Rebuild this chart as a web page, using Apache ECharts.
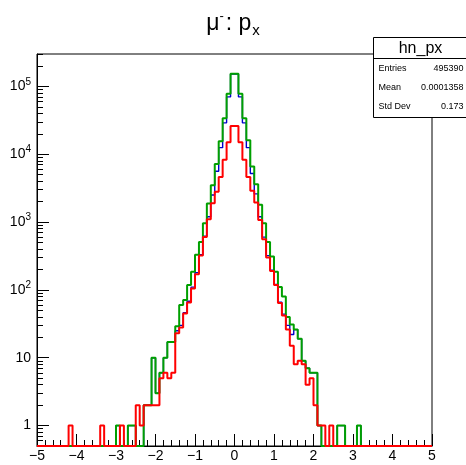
<!DOCTYPE html>
<html>
<head>
<meta charset="utf-8">
<script src="https://cdn.jsdelivr.net/npm/echarts@6/dist/echarts.min.js"></script>
<style>html,body{margin:0;padding:0;background:#fff}#c{width:466px;height:465px}</style>
</head>
<body>
<div id="c"></div>
<script>
// Histogram: 100 bins from -5 to 5 (width 0.1); counts per bin
var binLow = -5, binWidth = 0.1, nBins = 100;
function zeros(n){ var a=[]; for(var i=0;i<n;i++) a.push(0); return a; }

// green histogram counts (index 0 = bin [-5,-4.9])
var greenCounts = zeros(100);
var greenNonZero = {20:1,23:1,24:1,27:2,28:2,29:10,30:3,31:6,32:10,33:17,34:17,35:29,36:60,37:71,38:118,39:185,40:330,41:510,42:960,43:1880,44:3500,45:7200,46:15500,47:34000,48:78000,49:154000,
  50:154000,51:78000,52:34000,53:16000,54:6600,55:3600,56:1800,57:960,58:510,59:310,60:185,61:110,62:80,63:40,64:31,65:26,66:19,67:9,68:7,69:6,70:6,71:1,76:1,77:1,81:1};
// red histogram counts
var redCounts = zeros(100);
var redNonZero = {8:1,16:1,21:1,25:2,26:1,27:2,28:2,29:2,30:2,31:5,32:6,33:5,34:6,35:23,36:28,37:45,38:65,39:105,40:170,41:320,42:600,43:1100,44:1900,45:2800,46:4600,47:8300,48:15000,49:26000,
  50:26000,51:15000,52:8300,53:4600,54:2900,55:1950,56:1070,57:560,58:300,59:190,60:118,61:64,62:42,63:26,64:15,65:8,66:9,67:8,68:4,69:5,70:2,71:1,72:1,74:1};
// blue histogram counts (hn_px)
var blueCounts = zeros(100);
var blueNonZero = {20:1,23:1,24:1,27:2,28:2,29:10,30:3,31:6,32:10,33:17,34:17,35:25,36:30,37:46,38:68,39:110,40:180,41:330,42:620,43:1200,44:2500,45:5600,46:12500,47:29000,48:70000,49:152000,
  50:152000,51:70000,52:29000,53:12500,54:5200,55:2600,56:1200,57:600,58:320,59:195,60:120,61:66,62:44,63:30,64:22,65:26,66:19,67:9,68:7,69:6,70:6,71:1,76:1,77:1,81:1};
Object.keys(greenNonZero).forEach(function(k){greenCounts[+k]=greenNonZero[k];});
Object.keys(redNonZero).forEach(function(k){redCounts[+k]=redNonZero[k];});
Object.keys(blueNonZero).forEach(function(k){blueCounts[+k]=blueNonZero[k];});

var xTicks = [-5,-4,-3,-2,-1,0,1,2,3,4,5];
var yMajorDecades = [0,1,2,3,4,5];
var yMin = 0.5, yMax = 3e5;

var statsTitle = 'hn_px';
var statsRows = [['Entries','495390'],['Mean','0.0001358'],['Std Dev','0.173']];

var LMIN = Math.log10(yMin), LMAX = Math.log10(yMax);
function lv(c){ return c > 0 ? Math.log10(c) : LMIN; }
function stepData(counts){
  var d = [];
  for (var i=0;i<counts.length;i++) d.push([+(binLow + i*binWidth).toFixed(2), lv(counts[i])]);
  d.push([binLow + nBins*binWidth, lv(counts[counts.length-1])]);
  return d;
}
var minorVals = [];
for (var n=-1;n<=5;n++) for (var k=2;k<=9;k++){ var v=Math.log10(k*Math.pow(10,n)); if (v>=LMIN-1e-9 && v<=LMAX) minorVals.push(v); }

var FONT = '"Liberation Sans", Arial, Helvetica, sans-serif';
var chart = echarts.init(document.getElementById('c'), null, {renderer:'canvas'});
chart.setOption({
  animation: false,
  backgroundColor: '#fff',
  title: {
    text: '{m|\u03bc}{sup|-}{m|: p}{sub|x}',
    left: 'center', top: 4,
    textStyle: {
      fontFamily: FONT, fontWeight: 'normal',
      rich: {
        m: {fontSize: 23, fontFamily: FONT, fontWeight: 'normal', color: '#000'},
        sup: {fontSize: 13, fontFamily: FONT, fontWeight: 'normal', color: '#000', padding: [0,2,14,0]},
        sub: {fontSize: 15, fontFamily: FONT, fontWeight: 'normal', color: '#000', padding: [14,0,0,1]}
      }
    }
  },
  grid: {left: 37, right: 34, top: 54, bottom: 19, show: true, borderColor: '#000', borderWidth: 1, backgroundColor: 'transparent'},
  xAxis: {
    type: 'value', min: -5, max: 5, interval: 1,
    axisLine: {show: true, onZero: false, lineStyle: {color: '#000', width: 1}},
    axisTick: {show: true, inside: true, length: 12, lineStyle: {color: '#000'}},
    minorTick: {show: true, splitNumber: 5, length: 6, lineStyle: {color: '#000'}},
    splitLine: {show: false},
    axisLabel: {
      color: '#000', fontSize: 14, fontFamily: FONT, margin: 3,
      customValues: xTicks,
      formatter: function(v){ return v < 0 ? '\u2212' + Math.abs(v) : String(v); }
    }
  },
  yAxis: [{
    type: 'value', min: LMIN, max: LMAX, position: 'left',
    axisLine: {show: true, onZero: false, lineStyle: {color: '#000', width: 1}},
    axisTick: {show: true, inside: true, length: 12, customValues: yMajorDecades, lineStyle: {color: '#000'}},
    splitLine: {show: false},
    axisLabel: {
      customValues: yMajorDecades, margin: 6, color: '#000', fontFamily: FONT,
      formatter: function(v){
        var e = Math.round(v);
        if (e === 0) return '{b|1}';
        if (e === 1) return '{b|10}';
        return '{b|10}{s|' + e + '}';
      },
      rich: {
        b: {fontSize: 14, fontFamily: FONT, color: '#000'},
        s: {fontSize: 10, fontFamily: FONT, color: '#000', padding: [0,0,9,0]}
      }
    }
  },{
    type: 'value', min: LMIN, max: LMAX, position: 'left', offset: 0,
    axisLine: {show: false, onZero: false},
    axisTick: {show: true, inside: true, length: 6, customValues: minorVals, lineStyle: {color: '#000'}},
    axisLabel: {show: false},
    splitLine: {show: false}
  }],
  series: [
    {name: 'blue', type: 'line', step: 'end', data: stepData(blueCounts), showSymbol: false, lineStyle: {color: '#0000cc', width: 1.4}, z: 2},
    {name: 'green', type: 'line', step: 'end', data: stepData(greenCounts), showSymbol: false, lineStyle: {color: '#00a000', width: 2}, z: 3},
    {name: 'red', type: 'line', step: 'end', data: stepData(redCounts), showSymbol: false, lineStyle: {color: '#ff0000', width: 2}, z: 4}
  ],
  graphic: [{
    type: 'group', left: 371, top: 37, z: 100,
    children: [
      {type: 'rect', shape: {x: 0, y: 0, width: 94.5, height: 80}, style: {fill: '#fff', stroke: '#000', lineWidth: 1}},
      {type: 'line', shape: {x1: 0, y1: 21, x2: 94.5, y2: 21}, style: {stroke: '#000', lineWidth: 1}},
      {type: 'text', x: 47, y: 11, style: {text: statsTitle, fontSize: 16, fontFamily: FONT, fill: '#000', align: 'center', verticalAlign: 'middle'}},
      {type: 'text', x: 5, y: 31, style: {text: statsRows[0][0], fontSize: 9, fontFamily: FONT, fill: '#000', verticalAlign: 'middle'}},
      {type: 'text', x: 90, y: 31, style: {text: statsRows[0][1], fontSize: 9, fontFamily: FONT, fill: '#000', align: 'right', verticalAlign: 'middle'}},
      {type: 'text', x: 5, y: 50, style: {text: statsRows[1][0], fontSize: 9, fontFamily: FONT, fill: '#000', verticalAlign: 'middle'}},
      {type: 'text', x: 90, y: 50, style: {text: statsRows[1][1], fontSize: 9, fontFamily: FONT, fill: '#000', align: 'right', verticalAlign: 'middle'}},
      {type: 'text', x: 5, y: 69, style: {text: statsRows[2][0], fontSize: 9, fontFamily: FONT, fill: '#000', verticalAlign: 'middle'}},
      {type: 'text', x: 90, y: 69, style: {text: statsRows[2][1], fontSize: 9, fontFamily: FONT, fill: '#000', align: 'right', verticalAlign: 'middle'}}
    ]
  }]
});
</script>
</body>
</html>
